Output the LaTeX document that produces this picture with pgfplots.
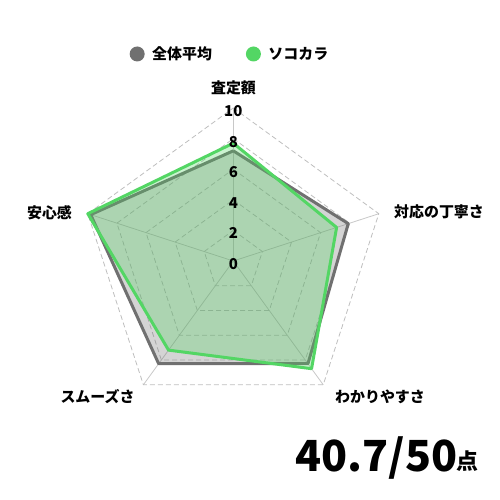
\documentclass[border=0pt]{standalone}
\usepackage{pgfplots}
\pgfplotsset{compat=1.18}
\usepackage{fontspec}
\setmainfont{Noto Sans CJK JP}
\definecolor{avgcol}{RGB}{112,112,112}
\definecolor{sokocol}{RGB}{83,214,100}
\definecolor{gridcol}{RGB}{190,190,190}
\definecolor{spokecol}{RGB}{200,200,200}
\begin{document}
\begin{tikzpicture}[x=1bp,y=1bp]
\useasboundingbox (0bp,0bp) rectangle (500bp,500bp);
\begin{axis}[
  hide axis,
  x=15.3bp, y=15.3bp,
  xmin=-11, xmax=11, ymin=-11, ymax=11,
  at={(233.3bp,239bp)}, anchor=center,
  clip=false,
  legend columns=2,
  legend style={draw=none, fill=none, at={(axis description cs:0.490,1.115)}, anchor=center,
    font=\bfseries\fontsize{15}{15}\selectfont,
    /tikz/every even column/.append style={column sep=32bp}},
  legend image code/.code={\fill[#1] (0bp,0bp) circle (7.5bp); \path (13bp,0bp);},
]
% spokes
\addplot[data cs=polar, spokecol, line width=0.8bp, forget plot] coordinates {(90,0) (90,10)};
\addplot[data cs=polar, spokecol, line width=0.8bp, forget plot] coordinates {(18,0) (18,10)};
\addplot[data cs=polar, spokecol, line width=0.8bp, forget plot] coordinates {(306,0) (306,10)};
\addplot[data cs=polar, spokecol, line width=0.8bp, forget plot] coordinates {(234,0) (234,10)};
\addplot[data cs=polar, spokecol, line width=0.8bp, forget plot] coordinates {(162,0) (162,10)};
% grid pentagons
\addplot[data cs=polar, gridcol, line width=0.8bp, dash pattern=on 5bp off 3bp, forget plot] coordinates {(90,2) (18,2) (306,2) (234,2) (162,2) (90,2)};
\addplot[data cs=polar, gridcol, line width=0.8bp, dash pattern=on 5bp off 3bp, forget plot] coordinates {(90,4) (18,4) (306,4) (234,4) (162,4) (90,4)};
\addplot[data cs=polar, gridcol, line width=0.8bp, dash pattern=on 5bp off 3bp, forget plot] coordinates {(90,6) (18,6) (306,6) (234,6) (162,6) (90,6)};
\addplot[data cs=polar, gridcol, line width=0.8bp, dash pattern=on 5bp off 3bp, forget plot] coordinates {(90,8) (18,8) (306,8) (234,8) (162,8) (90,8)};
\addplot[data cs=polar, gridcol, line width=0.8bp, dash pattern=on 5bp off 3bp, forget plot] coordinates {(90,10) (18,10) (306,10) (234,10) (162,10) (90,10)};
% 全体平均
\addplot[data cs=polar, draw=avgcol, line width=3bp, fill=avgcol, fill opacity=0.3, line join=round, forget plot]
  coordinates {(90,7.2) (18,7.9) (306,8.3) (234,8.3) (162,9.8) (90,7.2)};
% ソコカラ
\addplot[data cs=polar, draw=sokocol, line width=3bp, fill=sokocol, fill opacity=0.3, line join=round, forget plot]
  coordinates {(90,7.7) (18,7.1) (306,8.7) (234,7.2) (162,10.0) (90,7.7)};
% tick labels
\foreach \v in {0,2,4,6,8,10} {
  \edef\temp{\noexpand\node[font=\noexpand\bfseries\noexpand\fontsize{15}{15}\noexpand\selectfont, inner sep=0pt, yshift=-3bp] at (axis cs:0,\v) {\v};}
  \temp
}
\addlegendimage{fill=avgcol, draw=none}
\addlegendentry{全体平均}
\addlegendimage{fill=sokocol, draw=none}
\addlegendentry{ソコカラ}
\end{axis}
\begin{scope}[every node/.style={font=\bfseries\fontsize{15}{15}\selectfont, inner sep=0pt}]
\node at (233.5bp,412bp) {査定額};
\node[anchor=west] at (394bp,288.3bp) {対応の丁寧さ};
\node at (380bp,103bp) {わかりやすさ};
\node at (97.5bp,103bp) {スムーズさ};
\node at (49.5bp,287.3bp) {安心感};
\end{scope}
\node[anchor=base west, inner sep=0pt, font=\bfseries\fontsize{43}{43}\selectfont] at (295bp,28.3bp) {40.7/50};
\node[anchor=base west, inner sep=0pt, font=\bfseries\fontsize{22}{22}\selectfont] at (456bp,31bp) {点};
\end{tikzpicture}
\end{document}
